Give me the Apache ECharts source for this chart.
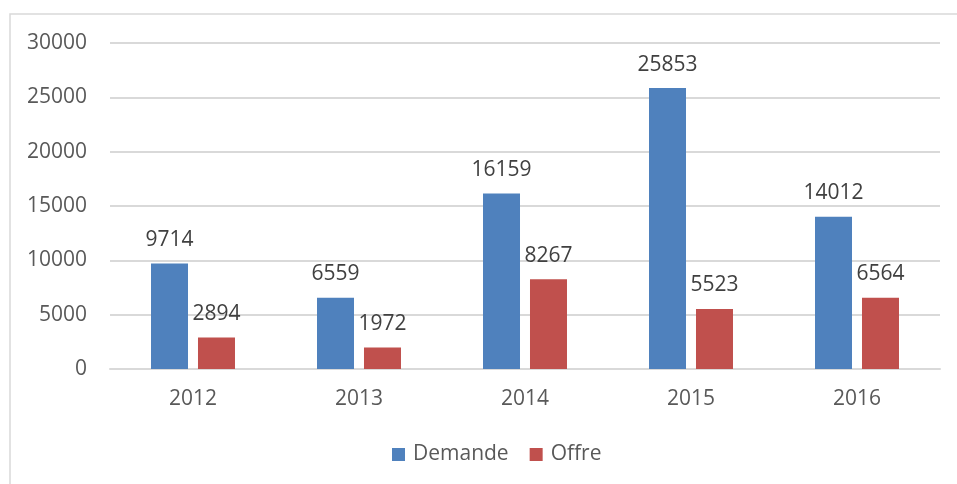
<!DOCTYPE html>
<html><head><meta charset="utf-8">
<script src="https://cdn.jsdelivr.net/npm/echarts@6/dist/echarts.min.js"></script>
<style>html,body{margin:0;padding:0;background:#fff}#c{width:957px;height:484px}</style>
</head><body><div id="c"></div>
<script>
const categories = ['2012','2013','2014','2015','2016'];
const demande = [9714, 6559, 16159, 25853, 14012];
const offre = [2894, 1972, 8267, 5523, 6564];
const seriesNames = ['Demande','Offre'];

const FONT = 'Open Sans';
const FS = 21;
const chart = echarts.init(document.getElementById('c'));
const labelCfg = {show:true, position:'top', distance:13, color:'#404040', fontFamily:FONT, fontSize:FS};
chart.setOption({
  animation:false,
  textStyle:{fontFamily:FONT},
  graphic:[{type:'rect', shape:{x:10,y:14,width:1200,height:1000}, style:{fill:'none', stroke:'#d9d9d9', lineWidth:1.5}, silent:true}],
  grid:{left:110, right:17, top:43, bottom:115, containLabel:false},
  legend:{data:seriesNames, top:439, left:387, itemWidth:13, itemHeight:13, itemGap:21,
    textStyle:{fontFamily:FONT, fontSize:FS, color:'#595959', padding:[0,0,0,3]}, icon:'rect'},
  xAxis:{type:'category', data:categories, axisTick:{show:false},
    axisLine:{lineStyle:{color:'#d9d9d9', width:2}},
    axisLabel:{color:'#595959', fontFamily:FONT, fontSize:FS, margin:20}},
  yAxis:{type:'value', min:0, max:30000, interval:5000,
    axisLine:{show:false}, axisTick:{show:false},
    splitLine:{lineStyle:{color:'#d9d9d9', width:2}},
    axisLabel:{color:'#595959', fontFamily:FONT, fontSize:FS, margin:23, formatter:v => String(v)}},
  series:[
    {name:seriesNames[0], type:'bar', data:demande, barWidth:37, barGap:'27%', itemStyle:{color:'#4F81BD'}, label:labelCfg},
    {name:seriesNames[1], type:'bar', data:offre, barWidth:37, itemStyle:{color:'#C0504D'}, label:labelCfg}
  ]
});
</script></body></html>
